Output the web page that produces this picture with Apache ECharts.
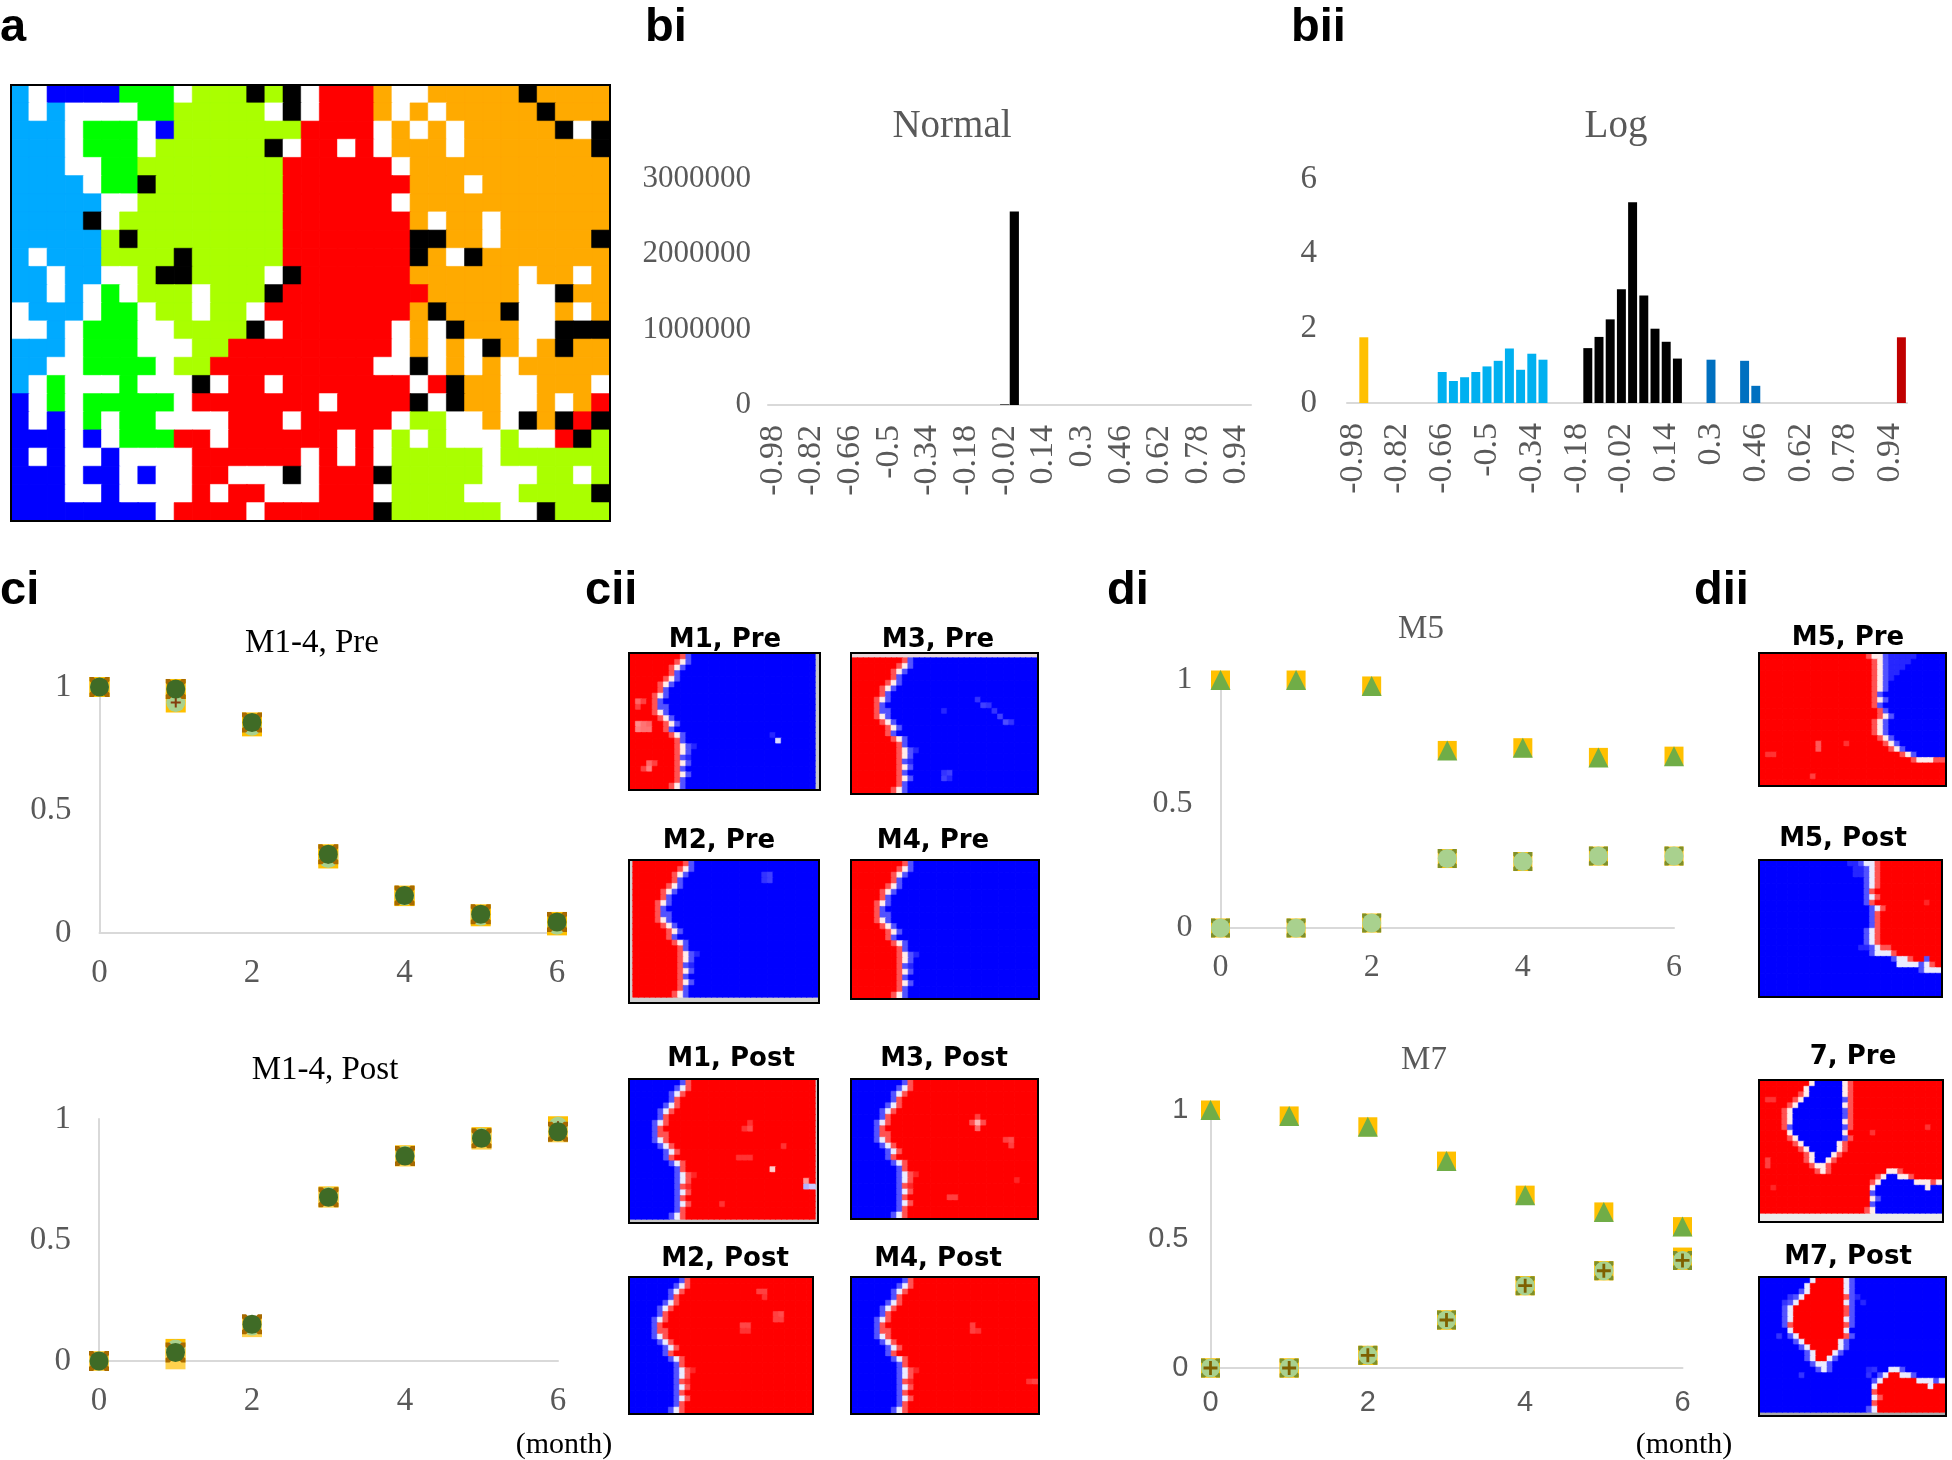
<!DOCTYPE html>
<html>
<head>
<meta charset="utf-8">
<title>Chart</title>
<script src="https://cdn.jsdelivr.net/npm/echarts@6/dist/echarts.min.js"></script>
<style>
  html, body { margin: 0; padding: 0; background: #fff; }
  #main { width: 1952px; height: 1460px; }
</style>
</head>
<body>
<div id="main"></div>
<script>
// panel a: one string per row. C sky, B blue, G green, L lime, R red, O orange, W white, K black
var clusterRows = [
  'CWBBBBGGGWLLLKLKWRRROWWOOOOOKOOOO',
  'CWCWWWWGGLLLLLWKWRRROWOWOOOOOKOOO',
  'CCCWGGGWBLLLLLLLRRRRWOWOWOOOOOKWK',
  'CCCWGGGWLLLLLLKWRRWRWOOOWOOOOOOOK',
  'CCCWWGGLLLLLLLLRRRRRRWOOOOOOOOOOO',
  'CCCCWGGKLLLLLLLRRRRRRROOOWOOOOOOO',
  'CCCCCWWLLLLLLLLRRRRRRWOOOOOOOOOOO',
  'CCCCKWLLLLLLLLLRRRRRRROWOOWOOOOOO',
  'CCCCCLKLLLLLLLLRRRRRRRKKOOWOOOOOK',
  'CWCCCLLLLKLLLLLRRRRRRRKOWKOOOOOOO',
  'CCWCCWWLKKLLLLWKRRRRRROOOOOOWOOWO',
  'CCWCWGWLLLWLLLKRRRRRRRROOOOOWWKOO',
  'WCCCWGGWLLWLLWRRRRRRRROKOOOKWWOWO',
  'WWCWGGGWWLLLLKWRRRRRRWOWKOOOWWKKK',
  'CCCWGGGWWWLLRRRRRRRRRWOWOWKOWOKOO',
  'CCWWGGGGWLLRRRRRRRRRWWKWOWOWOOOOO',
  'CWGWWWGWWWKWRRWRRRRRRRWRKOOWWOOOW',
  'BWGWGGGGGWRRRRRRRWRRRRKWKOOWWOWOR',
  'BWBWGWGGWWWWRRRWRRRRRWLLWWOWKOKRK',
  'BBBWBWGGGRRWRRRRRRWRWLWLWWWLWWRKL',
  'BWBWWBWWWWRRRRRRWRWRWLLLLLWLLLLLL',
  'BBBWBBWBWWRRWWWKWRRRKLLLLLWWWLLWL',
  'BBBWWBWWWWRWRRWWWRRRWLLLLWWWLLLLK',
  'BBBBBBBBWRRRRWRRRRRRKLLLLLLWWKLLL'
];
var clusterCodes = ['C', 'B', 'G', 'L', 'R', 'O', 'W', 'K'];
var clusterColors = ['#00AAFF', '#0000FF', '#00FF00', '#AAFF00', '#FF0000', '#FFAA00', '#FFFFFF', '#000000'];

// bi / bii histograms
var binLabels = ['-0.98', '-0.94', '-0.9', '-0.86', '-0.82', '-0.78', '-0.74', '-0.7', '-0.66', '-0.62',
  '-0.58', '-0.54', '-0.5', '-0.46', '-0.42', '-0.38', '-0.34', '-0.3', '-0.26', '-0.22',
  '-0.18', '-0.14', '-0.1', '-0.06', '-0.02', '0.02', '0.06', '0.1', '0.14', '0.18',
  '0.22', '0.26', '0.3', '0.34', '0.38', '0.42', '0.46', '0.5', '0.54', '0.58',
  '0.62', '0.66', '0.7', '0.74', '0.78', '0.82', '0.86', '0.9', '0.94', '0.98'];
var normalValues = [0, 0, 0, 0, 0, 0, 0, 0, 0, 0,
  0, 0, 0, 0, 0, 0, 0, 0, 0, 0,
  0, 0, 0, 0, 8000, 2570000, 0, 0, 0, 0,
  0, 0, 0, 0, 0, 0, 0, 0, 0, 0,
  0, 0, 0, 0, 0, 0, 0, 0, 0, 0];
var logValues = [0, 1.76, 0, 0, 0, 0, 0, 0, 0.83, 0.59,
  0.69, 0.83, 0.98, 1.13, 1.46, 0.89, 1.32, 1.16, 0, 0,
  0, 1.47, 1.77, 2.24, 3.05, 5.38, 2.88, 1.99, 1.64, 1.19,
  0, 0, 1.16, 0, 0, 1.13, 0.46, 0, 0, 0,
  0, 0, 0, 0, 0, 0, 0, 0, 0, 1.76];

// scatter panels, x is month
var months = [0, 1, 2, 3, 4, 5, 6];
var preUpper = [1, 0.992, 0.856, 0.32, 0.152, 0.076, 0.045];
var preLower = [1, 0.937, 0.84, 0.303, 0.15, 0.068, 0.031];
var postDark = [0, 0.035, 0.152, 0.677, 0.847, 0.92, 0.947];
var postYellow = [0, 0.007, 0.14, 0.675, 0.845, 0.915, 0.945];
var postPale = [0, 0.05, 0.145, 0.68, 0.85, 0.925, 0.97];
var m5Upper = [1, 1, 0.976, 0.716, 0.727, 0.688, 0.693];
var m5Lower = [0, 0, 0.02, 0.28, 0.268, 0.29, 0.29];
var m7Upper = [1, 0.977, 0.935, 0.802, 0.67, 0.605, 0.548];
var m7Lower = [0, 0, 0.049, 0.186, 0.319, 0.377, 0.417];
var m7LowerYellow = [0, 0, 0.049, 0.186, 0.319, 0.377, 0.43];

// cii / dii maps, run length per row: a one side, b other side, x y t z pale, w boundary. last run fills the row
var patternM14 = ['9axyb', '8axwyb', '7axwyb', '7axyb', '6axwyb', '5axwyb', '5axyb', '4axwyb', '4axyb', '4axyyb',
  '4axwyb', '5axwyb', '6axwyb', '6axyb', '7axwyb', '8axyb', '8axwyzb', '8axwyb', '8axyzb', '8axwyb',
  '8axyb', '8axwyb', '8axyb', '7axwyb'];
var patternM5Pre = ['19ax2wy5zb', '20axwy4zb', '20axwy3zb', '20axwy2zb', '20axwyzb', '20axwyb', '20axwyb', '20axyb', '20axwyb', '20axyb',
  '21axyb', '21axwyb', '20axwyb', '20axwyb', '20axwyb', '21axwyb', '22axwyb', '23axwyb', '25axwyb', '27ax3w2x',
  '33a', '33a', '33a', '33a'];
var patternM5Post = ['16a2tx2wyb', '17a2txwyb', '17a2txwyb', '19axwyb', '19axwyb', '19axyb', '19axwyb', '19axyb', '20axwyb', '20axyb',
  '20axyb', '20axyb', '19axwyb', '19axwyb', '19axwyb', '18a2txw2yb', '20ax3wyb', '24ax2wy2bxb', '25a4wxwyb', '29ax3w',
  '33a', '33a', '33a', '33a'];
var patternM7 = ['9aw5bwxa', '8aw6bwxa', '7axw6bwxa', '6axw7byxa', '5axw8bwxa', '4axw9byxa', '4axw9byxa', '4axw9bwxa', '4axy9byxa', '5aw9bwa',
  '5axw8byxa', '6axw6bwxa', '7axw5bwxa', '8axw3bwxa', '8axw2bwxa', '9axwwxa', '10axwx10a2wxa', '21axw2b2wxa', '20axw6b3wxw', '20aw9bw2b',
  '20ayb', '20awyb', '20ayb', '19axwb'];

// pale spots [column, row, value]
var spotsM1Pre = [[1, 8, 0.6], [2, 8, 0.75], [1, 9, 0.75], [1, 12, 0.45], [2, 12, 0.55], [3, 12, 0.6], [1, 13, 0.5], [2, 13, 0.55], [3, 13, 0.55], [3, 19, 0.6], [3, 20, 0.5], [2, 20, 0.75], [4, 19, 0.75], [26, 15, -0.15], [25, 14, -0.85]];
var spotsM3Pre = [[22, 7, -0.8], [23, 8, -0.75], [24, 8, -0.8], [25, 9, -0.8], [26, 10, -0.75], [27, 11, -0.7], [28, 11, -0.8], [16, 9, -0.85], [16, 20, -0.8], [17, 20, -0.75], [16, 21, -0.75], [17, 21, -0.85]];
var spotsM2Pre = [[23, 2, -0.8], [24, 2, -0.75], [24, 3, -0.75], [23, 3, -0.8]];
var spotsM4Pre = [];
var spotsM1Post = [[21, 8, 0.7], [20, 8, 0.8], [21, 7, 0.8], [19, 13, 0.8], [20, 13, 0.8], [21, 13, 0.8], [25, 15, 0.2], [27, 11, 0.8], [31, 18, -0.3], [32, 18, -0.2], [31, 17, 0.4], [16, 21, 0.8]];
var spotsM3Post = [[22, 7, 0.3], [21, 7, 0.7], [22, 8, 0.6], [23, 7, 0.7], [22, 6, 0.75], [27, 10, 0.75], [28, 10, 0.7], [28, 11, 0.75], [17, 20, 0.75], [18, 20, 0.75], [29, 17, 0.85]];
var spotsM2Post = [[23, 2, 0.75], [24, 2, 0.75], [24, 3, 0.8], [27, 6, 0.7], [26, 6, 0.75], [27, 7, 0.75], [26, 7, 0.75], [20, 8, 0.72], [21, 8, 0.72], [20, 9, 0.8], [21, 9, 0.8]];
var spotsM4Post = [[21, 8, 0.75], [21, 9, 0.75], [22, 9, 0.8], [32, 18, 0.75], [31, 18, 0.8]];
var spotsM5Pre = [[10, 16, 0.65], [10, 17, 0.65], [1, 18, 0.8], [2, 18, 0.8], [15, 16, 0.8], [9, 22, 0.75]];
var spotsM5Post = [[30, 7, 0.85]];
var spots7Pre = [[1, 3, 0.8], [2, 3, 0.8], [20, 9, 0.8], [30, 8, 0.8], [1, 14, 0.75], [1, 15, 0.75], [2, 19, 0.85]];
var spotsM7Post = [[5, 3, -0.8], [4, 4, -0.8], [18, 4, -0.85], [17, 3, -0.85], [3, 10, -0.8], [7, 17, -0.8], [19, 17, -0.8], [19, 16, -0.85], [20, 16, -0.8]];

var serif = '"Liberation Serif", serif';
var sans = '"Liberation Sans", sans-serif';
var boldSans = '"DejaVu Sans", sans-serif';
var axisGray = '#D9D9D9';
var tickGray = '#595959';

var grids = [], xAxes = [], yAxes = [], series = [], titles = [], graphics = [];

function text(str, x, y, size, color, family, weight, align) {
  titles.push({
    text: str, left: x, top: y, padding: 0,
    textAlign: align || 'center', textVerticalAlign: 'middle',
    textStyle: { color: color, fontFamily: family, fontSize: size, fontWeight: weight || 'normal' }
  });
}

function addGrid(x0, y0, x1, y1, xAxis, yAxis) {
  grids.push({ left: x0, top: y0, width: x1 - x0, height: y1 - y0, outerBoundsMode: 'none', containLabel: false });
  var i = grids.length - 1;
  xAxis.gridIndex = i;
  yAxis.gridIndex = i;
  xAxes.push(xAxis);
  yAxes.push(yAxis);
  return i;
}

function frame(x0, y0, x1, y1, strip) {
  if (strip) {
    graphics.push({ type: 'rect', z: 0, silent: true, shape: { x: x0, y: y0, width: x1 - x0, height: y1 - y0 }, style: { fill: strip } });
  }
  graphics.push({ type: 'rect', z: 100, silent: true, shape: { x: x0, y: y0, width: x1 - x0, height: y1 - y0 }, style: { fill: 'none', stroke: '#000', lineWidth: 2 } });
}

function cellAxes() {
  var cols = [], rows = [];
  for (var c = 0; c < 33; c++) cols.push(c);
  for (var r = 0; r < 24; r++) rows.push(r);
  return {
    x: { type: 'category', data: cols, show: false },
    y: { type: 'category', data: rows, show: false, inverse: true }
  };
}

// a thin border in the cell's own colour hides seams between cells
function cell(c, r, v, color) {
  return { value: [c, r, v], itemStyle: { borderColor: color, borderWidth: 0.6 } };
}

// panel a
(function () {
  var data = [];
  clusterRows.forEach(function (row, r) {
    row.split('').forEach(function (ch, c) {
      var k = clusterCodes.indexOf(ch);
      data.push(cell(c, r, k, clusterColors[k]));
    });
  });
  var ax = cellAxes();
  var g = addGrid(11, 85, 610, 521, ax.x, ax.y);
  series.push({ type: 'heatmap', xAxisIndex: g, yAxisIndex: g, data: data, silent: true });
  frame(11, 85, 610, 521);
})();
var clusterSeriesIndex = 0;

// histograms
function histogram(x0, y0, x1, y1, values, max, interval, gap, yMargin, ySize, colorOf) {
  var g = addGrid(x0, y0, x1, y1, {
    type: 'category', data: binLabels,
    axisLine: { lineStyle: { color: axisGray, width: 2 } },
    axisTick: { show: false },
    axisLabel: { interval: 3, rotate: 90, margin: 20, padding: [6, 0, 0, 0], color: tickGray, fontFamily: serif, fontSize: 34, hideOverlap: false }
  }, {
    type: 'value', min: 0, max: max, interval: interval,
    axisLine: { show: false }, axisTick: { show: false }, splitLine: { show: false },
    axisLabel: { margin: yMargin, padding: [10, 0, 0, 0], color: tickGray, fontFamily: serif, fontSize: ySize, formatter: function (v) { return String(v); } }
  });
  series.push({
    type: 'bar', xAxisIndex: g, yAxisIndex: g, barCategoryGap: gap, silent: true,
    data: values.map(function (v, i) { return { value: v, itemStyle: { color: colorOf(i) } }; })
  });
}

function logColor(i) {
  if (i < 4) return '#FFC000';
  if (i < 20) return '#00B0F0';
  if (i < 31) return '#000000';
  if (i < 40) return '#0070C0';
  return '#C00000';
}

histogram(768, 179, 1251, 405, normalValues, 3000000, 1000000, '5%', 17, 31, function () { return '#000000'; });
histogram(1347, 179, 1907, 403, logValues, 6, 2, '20%', 30, 33, logColor);

// scatter panels
function scatterAxes(x0, y0, x1, y1, family, size, xMargin, yMargin) {
  return addGrid(x0, y0, x1, y1, {
    type: 'value', min: 0, max: 6, interval: 2,
    axisLine: { lineStyle: { color: axisGray, width: 2 } }, axisTick: { show: false }, splitLine: { show: false },
    axisLabel: { margin: xMargin, color: tickGray, fontFamily: family, fontSize: size }
  }, {
    type: 'value', min: 0, max: 1, interval: 0.5,
    axisLine: { show: true, lineStyle: { color: axisGray, width: 2 } }, axisTick: { show: false }, splitLine: { show: false },
    axisLabel: { margin: yMargin, padding: [6, 0, 0, 0], color: tickGray, fontFamily: family, fontSize: size }
  });
}

var plusPath = 'path://M4 0H6V4H10V6H6V10H4V6H0V4H4Z';
var crossPath = 'path://M0 0L2 0L5 3L8 0L10 0L10 2L7 5L10 8L10 10L8 10L5 7L2 10L0 10L0 8L3 5L0 2Z';

function marks(g, values, symbol, size, color, border) {
  series.push({
    type: 'scatter', xAxisIndex: g, yAxisIndex: g, symbol: symbol, symbolSize: size, silent: true, z: 2 + series.length * 0.001,
    itemStyle: { color: color, opacity: 1, borderColor: border || color, borderWidth: border ? 1 : 0 },
    data: months.map(function (m, i) { return [m, values[i]]; })
  });
}

var g1 = scatterAxes(99.5, 687, 557, 933, serif, 33, 24, 28);
marks(g1, preLower, 'rect', 20, '#FFC000');
marks(g1, preUpper, 'rect', 20, '#FFC000');
marks(g1, preLower, 'circle', 19, '#A9D18E');
marks(g1, preLower, plusPath, 10, '#843C0C');
marks(g1, preUpper, crossPath, 20, '#A86A00');
marks(g1, preUpper, 'circle', 19, '#3F6B26');

var g2 = scatterAxes(99, 1119, 558, 1361, serif, 33, 24, 28);
marks(g2, postPale, 'rect', 20, '#FFC000');
marks(g2, postYellow, 'rect', 20, '#FFD24D');
marks(g2, postPale, 'circle', 19, '#A9D18E');
marks(g2, postPale, plusPath, 10, '#843C0C');
marks(g2, postDark, crossPath, 20, '#A86A00');
marks(g2, postDark, 'circle', 19, '#3F6B26');

var g3 = scatterAxes(1220.5, 680, 1674, 928, serif, 32, 24, 28);
marks(g3, m5Upper, 'rect', 19, '#FFC000');
marks(g3, m5Upper, 'triangle', 20, '#70AD47');
marks(g3, m5Lower, 'rect', 19, '#FFC000');
marks(g3, m5Lower, crossPath, 19, '#7F8F2A');
marks(g3, m5Lower, 'circle', 19, '#A9D18E');

var g4 = scatterAxes(1210.5, 1110, 1682.5, 1368, sans, 29, 20, 22);
marks(g4, m7Upper, 'rect', 19, '#FFC000');
marks(g4, m7Upper, 'triangle', 20, '#70AD47');
marks(g4, m7LowerYellow, 'rect', 19, '#FFC000');
marks(g4, m7Lower, 'rect', 19, '#FFC000');
marks(g4, m7Lower, crossPath, 19, '#7F8F2A');
marks(g4, m7Lower, 'circle', 19, '#A9D18E');
marks(g4, m7Lower, plusPath, 14, '#7F6000');

// small maps
function mapColor(v) {
  var k = Math.round(255 * (1 - Math.abs(v)));
  return v >= 0 ? 'rgb(255,' + k + ',' + k + ')' : 'rgb(' + k + ',' + k + ',255)';
}

function parsePattern(rows, sign, spots) {
  var levels = { a: 1, t: 0.85, x: 0.68, w: 0.08, y: -0.68, z: -0.85, b: -1 };
  var values = [];
  rows.forEach(function (row, r) {
    var cells = [], last = 'a';
    row.replace(/(\d*)([abxyzwt])/g, function (m, n, ch) {
      var count = n ? parseInt(n, 10) : 1;
      for (var k = 0; k < count; k++) cells.push(ch);
      last = ch;
    });
    while (cells.length < 33) cells.push(last);
    cells.slice(0, 33).forEach(function (ch) {
      values.push(levels[ch] * sign);
    });
  });
  spots.forEach(function (s) {
    values[s[1] * 33 + s[0]] = s[2];
  });
  return values.map(function (v, i) {
    return cell(i % 33, Math.floor(i / 33), v, mapColor(v));
  });
}

function mapPanel(p) {
  var ins = p.inset || [0, 0, 0, 0];
  var ax = cellAxes();
  var g = addGrid(p.x0 + 1 + ins[3], p.y0 + 1 + ins[0], p.x1 - 1 - ins[1], p.y1 - 1 - ins[2], ax.x, ax.y);
  series.push({ type: 'heatmap', xAxisIndex: g, yAxisIndex: g, silent: true, data: parsePattern(p.rows, p.sign, p.spots) });
  frame(p.x0, p.y0, p.x1, p.y1, p.strip);
  text(p.title, p.tx, p.ty + 3, 26, '#000', boldSans, 'bold');
  return series.length - 1;
}

var mapSeries = [
  { title: 'M1, Pre', rows: patternM14, sign: 1, spots: spotsM1Pre, x0: 629, y0: 653, x1: 820, y1: 790, inset: [0, 4, 0, 0], strip: '#C8C8C8', tx: 725, ty: 637 },
  { title: 'M3, Pre', rows: patternM14, sign: 1, spots: spotsM3Pre, x0: 851, y0: 653, x1: 1038, y1: 794, inset: [4, 0, 0, 0], strip: '#E8D8DC', tx: 938, ty: 637 },
  { title: 'M2, Pre', rows: patternM14, sign: 1, spots: spotsM2Pre, x0: 629, y0: 860, x1: 819, y1: 1003, inset: [0, 0, 5, 3], strip: '#D0D0D0', tx: 719, ty: 838 },
  { title: 'M4, Pre', rows: patternM14, sign: 1, spots: spotsM4Pre, x0: 851, y0: 860, x1: 1039, y1: 999, tx: 933, ty: 838 },
  { title: 'M1, Post', rows: patternM14, sign: -1, spots: spotsM1Post, x0: 629, y0: 1079, x1: 818, y1: 1223, inset: [0, 2, 3, 0], strip: '#C8C8C8', tx: 731, ty: 1056 },
  { title: 'M3, Post', rows: patternM14, sign: -1, spots: spotsM3Post, x0: 851, y0: 1079, x1: 1038, y1: 1219, tx: 944, ty: 1056 },
  { title: 'M2, Post', rows: patternM14, sign: -1, spots: spotsM2Post, x0: 629, y0: 1277, x1: 813, y1: 1414, tx: 725, ty: 1256 },
  { title: 'M4, Post', rows: patternM14, sign: -1, spots: spotsM4Post, x0: 851, y0: 1277, x1: 1039, y1: 1414, tx: 938, ty: 1256 },
  { title: 'M5, Pre', rows: patternM5Pre, sign: 1, spots: spotsM5Pre, x0: 1759, y0: 653, x1: 1946, y1: 786, tx: 1848, ty: 635 },
  { title: 'M5, Post', rows: patternM5Post, sign: -1, spots: spotsM5Post, x0: 1759, y0: 860, x1: 1942, y1: 997, tx: 1843, ty: 836 },
  { title: '7, Pre', rows: patternM7, sign: 1, spots: spots7Pre, x0: 1759, y0: 1080, x1: 1943, y1: 1222, inset: [0, 0, 8, 0], strip: '#ECECEC', tx: 1853, ty: 1054 },
  { title: 'M7, Post', rows: patternM7, sign: -1, spots: spotsM7Post, x0: 1759, y0: 1277, x1: 1946, y1: 1416, inset: [0, 0, 3, 0], strip: '#ABABAB', tx: 1848, ty: 1254 }
].map(mapPanel);

// chart titles
text('Normal', 952, 127, 39, tickGray, serif);
text('Log', 1616, 127, 39, tickGray, serif);
text('M1-4, Pre', 312, 643, 33, '#000', serif);
text('M1-4, Post', 325, 1070, 33, '#000', serif);
text('M5', 1421, 629, 33, tickGray, serif);
text('M7', 1424, 1060, 33, tickGray, serif);
text('(month)', 564, 1445, 30, '#000', serif);
text('(month)', 1684, 1445, 30, '#000', serif);

// panel letters
[['a', 0, 28], ['bi', 645, 28], ['bii', 1291, 28], ['ci', 0, 591], ['cii', 585, 591], ['di', 1107, 591], ['dii', 1694, 591]].forEach(function (l) {
  text(l[0], l[1], l[2], 47, '#000', sans, 'bold', 'left');
});

var chart = echarts.init(document.getElementById('main'), null, { renderer: 'canvas' });
chart.setOption({
  animation: false,
  backgroundColor: '#fff',
  title: titles,
  grid: grids,
  xAxis: xAxes,
  yAxis: yAxes,
  visualMap: [
    {
      type: 'piecewise', show: false, seriesIndex: clusterSeriesIndex, dimension: 2,
      pieces: clusterColors.map(function (c, i) { return { value: i, color: c }; })
    },
    {
      type: 'continuous', show: false, seriesIndex: mapSeries, dimension: 2, min: -1, max: 1,
      inRange: { color: ['#0000FF', '#FFFFFF', '#FF0000'] }
    }
  ],
  graphic: { elements: graphics },
  series: series
});
</script>
</body>
</html>
